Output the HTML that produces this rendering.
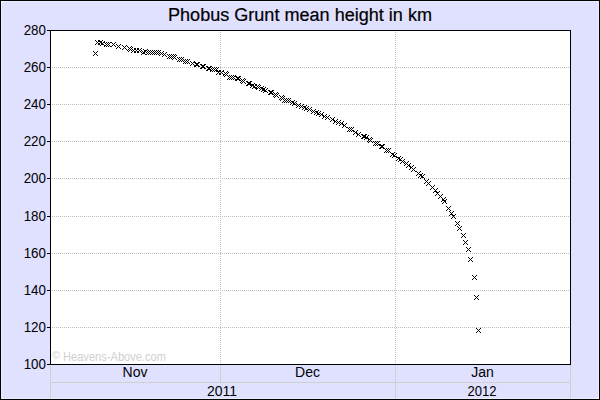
<!DOCTYPE html>
<html><head><meta charset="utf-8"><style>
html,body{margin:0;padding:0;background:#e0e0ff;}
svg{display:block;}
text{font-family:"Liberation Sans",sans-serif;fill:#000;}
.t{stroke:#000;stroke-width:0.2px;}
</style></head><body>
<svg width="600" height="400" viewBox="0 0 600 400" shape-rendering="crispEdges">
<defs>
<pattern id="hd" x="0" y="0" width="2" height="1" patternUnits="userSpaceOnUse"><rect x="0" y="0" width="1" height="1" fill="#c0c0c0"/></pattern>
<pattern id="vd" x="0" y="0" width="1" height="2" patternUnits="userSpaceOnUse"><rect x="0" y="0" width="1" height="1" fill="#c0c0c0"/></pattern>
<path id="m" d="M-2-2h1v1h-1zM-1-1h1v1h-1zM0 0h1v1h-1zM1 1h1v1h-1zM2 2h1v1h-1zM2-2h1v1h-1zM1-1h1v1h-1zM-1 1h1v1h-1zM-2 2h1v1h-1z"/>
</defs>
<rect x="0" y="0" width="600" height="400" fill="#000"/>
<rect x="1" y="1" width="598" height="398" fill="#ececff"/><rect x="1" y="1" width="1" height="1" fill="#fff"/><rect x="598" y="398" width="1" height="1" fill="#fff"/>
<rect x="2" y="2" width="596" height="396" fill="#e0e0ff"/>
<text class="t" x="300" y="21" text-anchor="middle" font-size="18" textLength="264" lengthAdjust="spacingAndGlyphs">Phobus Grunt mean height in km</text>
<rect x="50" y="30" width="521" height="335" fill="#000"/>
<rect x="51" y="31" width="519" height="333" fill="#fff"/>
<rect x="51" y="327" width="519" height="1" fill="url(#hd)"/><rect x="51" y="290" width="519" height="1" fill="url(#hd)"/><rect x="51" y="253" width="519" height="1" fill="url(#hd)"/><rect x="51" y="216" width="519" height="1" fill="url(#hd)"/><rect x="51" y="178" width="519" height="1" fill="url(#hd)"/><rect x="51" y="141" width="519" height="1" fill="url(#hd)"/><rect x="51" y="104" width="519" height="1" fill="url(#hd)"/><rect x="51" y="67" width="519" height="1" fill="url(#hd)"/>
<rect x="220" y="31" width="1" height="333" fill="url(#vd)"/>
<rect x="395" y="31" width="1" height="333" fill="url(#vd)"/>
<text x="52" y="359" font-size="11" style="fill:#d0d0d0">©</text><text x="63" y="361" font-size="12" textLength="103" lengthAdjust="spacingAndGlyphs" style="fill:#d0d0d0">Heavens-Above.com</text>
<rect x="47" y="364" width="3" height="1"/><rect x="47" y="327" width="3" height="1"/><rect x="47" y="290" width="3" height="1"/><rect x="47" y="253" width="3" height="1"/><rect x="47" y="216" width="3" height="1"/><rect x="47" y="178" width="3" height="1"/><rect x="47" y="141" width="3" height="1"/><rect x="47" y="104" width="3" height="1"/><rect x="47" y="67" width="3" height="1"/><rect x="47" y="30" width="3" height="1"/>
<g font-size="14"><text x="46" y="369" text-anchor="end" textLength="22.3" lengthAdjust="spacingAndGlyphs">100</text><text x="46" y="332" text-anchor="end" textLength="22.3" lengthAdjust="spacingAndGlyphs">120</text><text x="46" y="295" text-anchor="end" textLength="22.3" lengthAdjust="spacingAndGlyphs">140</text><text x="46" y="258" text-anchor="end" textLength="22.3" lengthAdjust="spacingAndGlyphs">160</text><text x="46" y="221" text-anchor="end" textLength="22.3" lengthAdjust="spacingAndGlyphs">180</text><text x="46" y="183" text-anchor="end" textLength="22.3" lengthAdjust="spacingAndGlyphs">200</text><text x="46" y="146" text-anchor="end" textLength="22.3" lengthAdjust="spacingAndGlyphs">220</text><text x="46" y="109" text-anchor="end" textLength="22.3" lengthAdjust="spacingAndGlyphs">240</text><text x="46" y="72" text-anchor="end" textLength="22.3" lengthAdjust="spacingAndGlyphs">260</text><text x="46" y="35" text-anchor="end" textLength="22.3" lengthAdjust="spacingAndGlyphs">280</text></g>
<rect x="50" y="365" width="1" height="34" fill="#d2d0cc"/>
<rect x="570" y="365" width="1" height="34" fill="#d2d0cc"/>
<rect x="395" y="365" width="1" height="34" fill="#d2d0cc"/>
<rect x="220" y="365" width="1" height="17" fill="#d2d0cc"/>
<rect x="51" y="382" width="519" height="1" fill="#d2d0cc"/>
<g font-size="14" text-anchor="middle">
<text x="135" y="377">Nov</text><text x="307.5" y="377">Dec</text><text x="482.5" y="377">Jan</text>
<text x="222" y="396">2011</text><text x="482" y="396" textLength="29.1" lengthAdjust="spacingAndGlyphs">2012</text>
</g>
<g><use href="#m" x="95" y="53"/><use href="#m" x="97" y="42"/><use href="#m" x="100" y="42"/><use href="#m" x="102" y="43"/><use href="#m" x="106" y="44"/><use href="#m" x="108" y="44"/><use href="#m" x="113" y="44"/><use href="#m" x="118" y="46"/><use href="#m" x="124" y="47"/><use href="#m" x="129" y="48"/><use href="#m" x="130" y="49"/><use href="#m" x="133" y="50"/><use href="#m" x="136" y="50"/><use href="#m" x="139" y="50"/><use href="#m" x="143" y="52"/><use href="#m" x="145" y="51"/><use href="#m" x="148" y="52"/><use href="#m" x="150" y="52"/><use href="#m" x="152" y="52"/><use href="#m" x="154" y="52"/><use href="#m" x="156" y="52"/><use href="#m" x="158" y="52"/><use href="#m" x="161" y="53"/><use href="#m" x="164" y="54"/><use href="#m" x="169" y="56"/><use href="#m" x="171" y="56"/><use href="#m" x="173" y="56"/><use href="#m" x="174" y="57"/><use href="#m" x="179" y="59"/><use href="#m" x="181" y="59"/><use href="#m" x="185" y="61"/><use href="#m" x="187" y="61"/><use href="#m" x="192" y="63"/><use href="#m" x="196" y="64"/><use href="#m" x="197" y="64"/><use href="#m" x="202" y="66"/><use href="#m" x="203" y="66"/><use href="#m" x="208" y="68"/><use href="#m" x="209" y="68"/><use href="#m" x="212" y="69"/><use href="#m" x="214" y="69"/><use href="#m" x="216" y="69"/><use href="#m" x="218" y="72"/><use href="#m" x="221" y="72"/><use href="#m" x="225" y="73"/><use href="#m" x="226" y="74"/><use href="#m" x="229" y="77"/><use href="#m" x="231" y="77"/><use href="#m" x="233" y="77"/><use href="#m" x="237" y="78"/><use href="#m" x="238" y="78"/><use href="#m" x="242" y="80"/><use href="#m" x="243" y="81"/><use href="#m" x="248" y="83"/><use href="#m" x="249" y="83"/><use href="#m" x="252" y="85"/><use href="#m" x="254" y="86"/><use href="#m" x="257" y="86"/><use href="#m" x="258" y="87"/><use href="#m" x="261" y="88"/><use href="#m" x="263" y="89"/><use href="#m" x="265" y="90"/><use href="#m" x="270" y="92"/><use href="#m" x="271" y="92"/><use href="#m" x="275" y="94"/><use href="#m" x="276" y="95"/><use href="#m" x="281" y="97"/><use href="#m" x="282" y="98"/><use href="#m" x="284" y="100"/><use href="#m" x="286" y="100"/><use href="#m" x="288" y="100"/><use href="#m" x="292" y="102"/><use href="#m" x="294" y="103"/><use href="#m" x="298" y="105"/><use href="#m" x="301" y="106"/><use href="#m" x="304" y="107"/><use href="#m" x="306" y="108"/><use href="#m" x="309" y="109"/><use href="#m" x="313" y="111"/><use href="#m" x="316" y="112"/><use href="#m" x="318" y="113"/><use href="#m" x="321" y="114"/><use href="#m" x="324" y="116"/><use href="#m" x="327" y="117"/><use href="#m" x="332" y="119"/><use href="#m" x="335" y="121"/><use href="#m" x="338" y="122"/><use href="#m" x="341" y="123"/><use href="#m" x="344" y="125"/><use href="#m" x="349" y="129"/><use href="#m" x="351" y="129"/><use href="#m" x="355" y="132"/><use href="#m" x="358" y="134"/><use href="#m" x="363" y="136"/><use href="#m" x="364" y="136"/><use href="#m" x="366" y="137"/><use href="#m" x="369" y="139"/><use href="#m" x="370" y="140"/><use href="#m" x="375" y="143"/><use href="#m" x="377" y="143"/><use href="#m" x="381" y="146"/><use href="#m" x="382" y="146"/><use href="#m" x="386" y="150"/><use href="#m" x="388" y="150"/><use href="#m" x="392" y="154"/><use href="#m" x="394" y="155"/><use href="#m" x="398" y="158"/><use href="#m" x="400" y="159"/><use href="#m" x="402" y="161"/><use href="#m" x="406" y="163"/><use href="#m" x="408" y="165"/><use href="#m" x="411" y="167"/><use href="#m" x="413" y="169"/><use href="#m" x="418" y="173"/><use href="#m" x="420" y="175"/><use href="#m" x="422" y="176"/><use href="#m" x="426" y="181"/><use href="#m" x="428" y="183"/><use href="#m" x="432" y="187"/><use href="#m" x="435" y="190"/><use href="#m" x="437" y="193"/><use href="#m" x="440" y="196"/><use href="#m" x="443" y="199"/><use href="#m" x="444" y="201"/><use href="#m" x="448" y="208"/><use href="#m" x="451" y="213"/><use href="#m" x="453" y="216"/><use href="#m" x="457" y="223"/><use href="#m" x="459" y="228"/><use href="#m" x="463" y="235"/><use href="#m" x="465" y="242"/><use href="#m" x="468" y="249"/><use href="#m" x="470" y="259"/><use href="#m" x="474" y="277"/><use href="#m" x="476" y="297"/><use href="#m" x="478" y="330"/></g>
</svg>
</body></html>
